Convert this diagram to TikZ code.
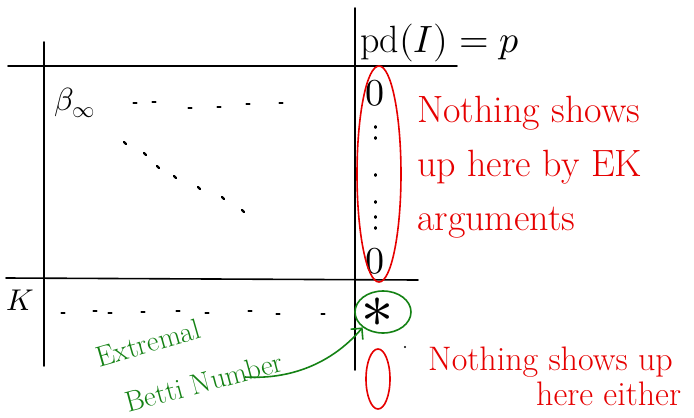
\documentclass[tikz,border=0pt]{standalone}
\usepackage{fontspec}
\usepackage{unicode-math}
\usetikzlibrary{shapes.geometric,arrows.meta}
\definecolor{hred}{RGB}{230,0,0}
\definecolor{hgreen}{RGB}{20,130,20}
\tikzset{
  grid/.style={line width=1.6pt,black,line cap=round},
  redtxt/.style={hred,font=\fontsize{38}{44}\selectfont,inner sep=0pt,anchor=base west},
  redtxtb/.style={hred,font=\fontsize{34}{40}\selectfont,inner sep=0pt,anchor=base west},
  greentxt/.style={hgreen,font=\fontsize{29}{34}\selectfont,inner sep=0pt},
  blk/.style={black,inner sep=0pt},
  dotmark/.style={line width=2.2pt,black,line cap=round},
  redring/.style={draw=hred,line width=1.6pt,ellipse,inner sep=0pt},
  greenring/.style={draw=hgreen,line width=1.6pt,ellipse,inner sep=0pt},
}
\begin{document}
\begin{tikzpicture}[x=1pt,y=-1pt]
\useasboundingbox[fill=white] (0,0) rectangle (694,418);
% grid lines
\draw[grid] (44,42) -- (44,366);
\draw[grid] (355,8) -- (355,370);
\draw[grid] (8,66) -- (457,66);
\draw[grid] (6,278) -- (418,280);
% labels
\node[blk,anchor=base west,font=\fontsize{38}{42}\selectfont] (pd) at (360,52) {$\mathrm{pd}(I) = p$};
\node[blk,anchor=base west,font=\fontsize{32}{36}\selectfont] (beta) at (54,110) {$\beta_\infty$};
\node[blk,anchor=base west,font=\fontsize{30}{34}\selectfont] (K) at (6,310) {$K$};
% dots: first row
\foreach \x/\y in {135/103,154/102,190/108,219/107,248/104,281/103}
  \draw[dotmark] (\x-1.5,\y) -- (\x+1.5,\y);
% diagonal
\foreach \x/\y in {125/143,145/154,158/167,175/177,199/188,223/198,243/211}
  \draw[dotmark] (\x-1,\y-1) -- (\x+1,\y+1);
% K row
\foreach \x/\y in {63/313,95/311,110/313,143/312,178/311,207/313,250/311,278/314,323/314}
  \draw[dotmark] (\x-1.5,\y) -- (\x+1.5,\y);
% column dots
\foreach \y in {127,138,175,202,217,228}
  \draw[dotmark] (375.5,\y-0.8) -- (375.5,\y+0.8);
% column entries
\node[blk,font=\fontsize{38}{40}\selectfont] (z1) at (375,93) {$0$};
\node[blk,font=\fontsize{38}{40}\selectfont] (z2) at (375,261) {$0$};
\node[blk,font=\fontsize{64}{64}\selectfont] (star) at (377,313) {$\ast$};
% red ellipse around column
\node[redring,minimum width=44pt,minimum height=216pt] (col) at (379,174) {};
% green ring around star
\node[greenring,minimum width=56pt,minimum height=42pt] (ring) at (383,312) {};
% red zero below
\node[redring,minimum width=24pt,minimum height=60pt] (z3) at (378,379) {};
\fill[black] (405,347) circle (1.2pt);
% red texts
\node[redtxt] (t1a) at (417,122) {Nothing shows};
\node[redtxt] (t1b) at (417,176) {up here by EK};
\node[redtxt] (t1c) at (417,230) {arguments};
\node[redtxtb] (t2a) at (428,370) {Nothing shows up};
\node[redtxtb] (t2b) at (536,405) {here either};
% green text
\node[greentxt,rotate=16] (ext) at (148,343) {Extremal};
\node[greentxt,rotate=15] (bn) at (204,382) {Betti Number};
% arrow
\coordinate (astart) at (245,377);
\draw[hgreen,line width=1.6pt,-{Straight Barb[length=8pt]}] (astart) .. controls (295,380) and (335,360) .. (ring.south west);
\end{tikzpicture}
\end{document}
